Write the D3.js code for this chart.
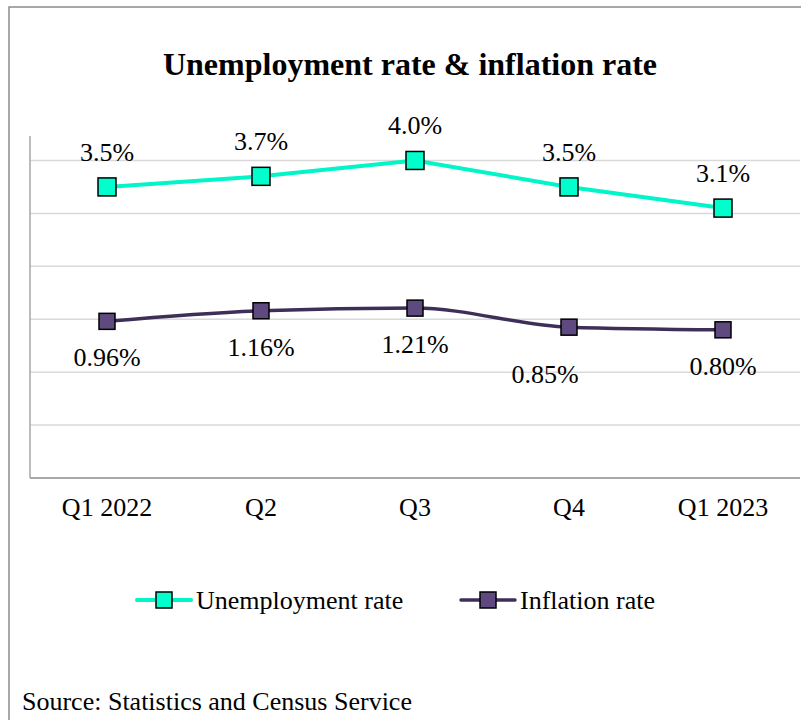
<!DOCTYPE html>
<html>
<head>
<meta charset="utf-8">
<script src="https://cdn.jsdelivr.net/npm/d3@7"></script>
<style>
  body { margin: 0; background: #fff; }
</style>
</head>
<body>
<svg width="801" height="720" font-family="'Liberation Serif', 'Times New Roman', Times, 'DejaVu Serif', serif"></svg>
<script>
const quarters = ["Q1 2022", "Q2", "Q3", "Q4", "Q1 2023"];
const unemployment = [3.5, 3.7, 4.0, 3.5, 3.1];
const inflation = [0.96, 1.16, 1.21, 0.85, 0.80];
const unemploymentLabels = ["3.5%", "3.7%", "4.0%", "3.5%", "3.1%"];
const inflationLabels = ["0.96%", "1.16%", "1.21%", "0.85%", "0.80%"];
const gridValues = [-1, 0, 1, 2, 3, 4];

const svg = d3.select("svg");

// outer frame
svg.append("rect")
    .attr("x", 9).attr("y", 7)
    .attr("width", 800).attr("height", 720)
    .attr("fill", "none")
    .attr("stroke", "#8c8c8c")
    .attr("stroke-width", 1.5);

svg.append("text")
    .attr("x", 410).attr("y", 75)
    .attr("text-anchor", "middle")
    .attr("font-size", 32)
    .attr("font-weight", "bold")
    .text("Unemployment rate & inflation rate");

const x = d3.scaleBand().domain(quarters).range([30, 800]);
const y = d3.scaleLinear().domain([-2, 4.5]).range([478, 134]);
const cx = d => x(d) + x.bandwidth() / 2;

// gridlines
svg.selectAll(".grid")
    .data(gridValues)
    .enter().append("line")
    .attr("x1", 30).attr("x2", 800)
    .attr("y1", d => y(d)).attr("y2", d => y(d))
    .attr("stroke", "#d9d9d9")
    .attr("stroke-width", 1.5);

// axes
svg.append("line")
    .attr("x1", 30).attr("x2", 30)
    .attr("y1", 136).attr("y2", y(-2))
    .attr("stroke", "#a6a6a6").attr("stroke-width", 1.5);
svg.append("line")
    .attr("x1", 30).attr("x2", 800)
    .attr("y1", y(-2)).attr("y2", y(-2))
    .attr("stroke", "#8c8c8c").attr("stroke-width", 1.5);

svg.selectAll(".cat")
    .data(quarters)
    .enter().append("text")
    .attr("x", d => cx(d))
    .attr("y", 516)
    .attr("text-anchor", "middle")
    .attr("font-size", 26)
    .text(d => d);

const series = [
    {name: "Unemployment rate", values: unemployment, labels: unemploymentLabels,
     line: "#00f5c8", fill: "#00ffcc", width: 4, size: 18, curve: d3.curveLinear, above: true},
    {name: "Inflation rate", values: inflation, labels: inflationLabels,
     line: "#3e2f58", fill: "#5e4a7e", width: 3.5, size: 16, curve: d3.curveMonotoneX, above: false}
];

// Q4 inflation label sits a bit off in the original
const labelNudge = {"Inflation rate": {3: [-24, 11]}};

series.forEach(s => {
    const pts = quarters.map((q, i) => [cx(q), y(s.values[i])]);
    svg.append("path")
        .attr("d", d3.line().curve(s.curve)(pts))
        .attr("fill", "none")
        .attr("stroke", s.line)
        .attr("stroke-width", s.width)
        .attr("stroke-linecap", "round");

    svg.selectAll(null)
        .data(pts)
        .enter().append("rect")
        .attr("x", d => d[0] - s.size / 2)
        .attr("y", d => d[1] - s.size / 2)
        .attr("width", s.size).attr("height", s.size)
        .attr("fill", s.fill)
        .attr("stroke", "#000")
        .attr("stroke-width", 1.5);

    svg.selectAll(null)
        .data(pts)
        .enter().append("text")
        .attr("x", (d, i) => d[0] + ((labelNudge[s.name] || {})[i] || [0, 0])[0])
        .attr("y", (d, i) => d[1] + (s.above ? -26 : 45) + ((labelNudge[s.name] || {})[i] || [0, 0])[1])
        .attr("text-anchor", "middle")
        .attr("font-size", 26)
        .text((d, i) => s.labels[i]);
});

// legend
const legendX = [137, 461];
series.forEach((s, i) => {
    const g = svg.append("g").attr("transform", `translate(${legendX[i]},600)`);
    g.append("line")
        .attr("x1", 0).attr("x2", 54)
        .attr("stroke", s.line).attr("stroke-width", s.width)
        .attr("stroke-linecap", "round");
    g.append("rect")
        .attr("x", 27 - 8).attr("y", -8)
        .attr("width", 16).attr("height", 16)
        .attr("fill", s.fill)
        .attr("stroke", "#000").attr("stroke-width", 1.5);
    g.append("text")
        .attr("x", 59).attr("y", 9)
        .attr("font-size", 26)
        .text(s.name);
});

svg.append("text")
    .attr("x", 22).attr("y", 710)
    .attr("font-size", 26)
    .text("Source: Statistics and Census Service");
</script>
</body>
</html>
